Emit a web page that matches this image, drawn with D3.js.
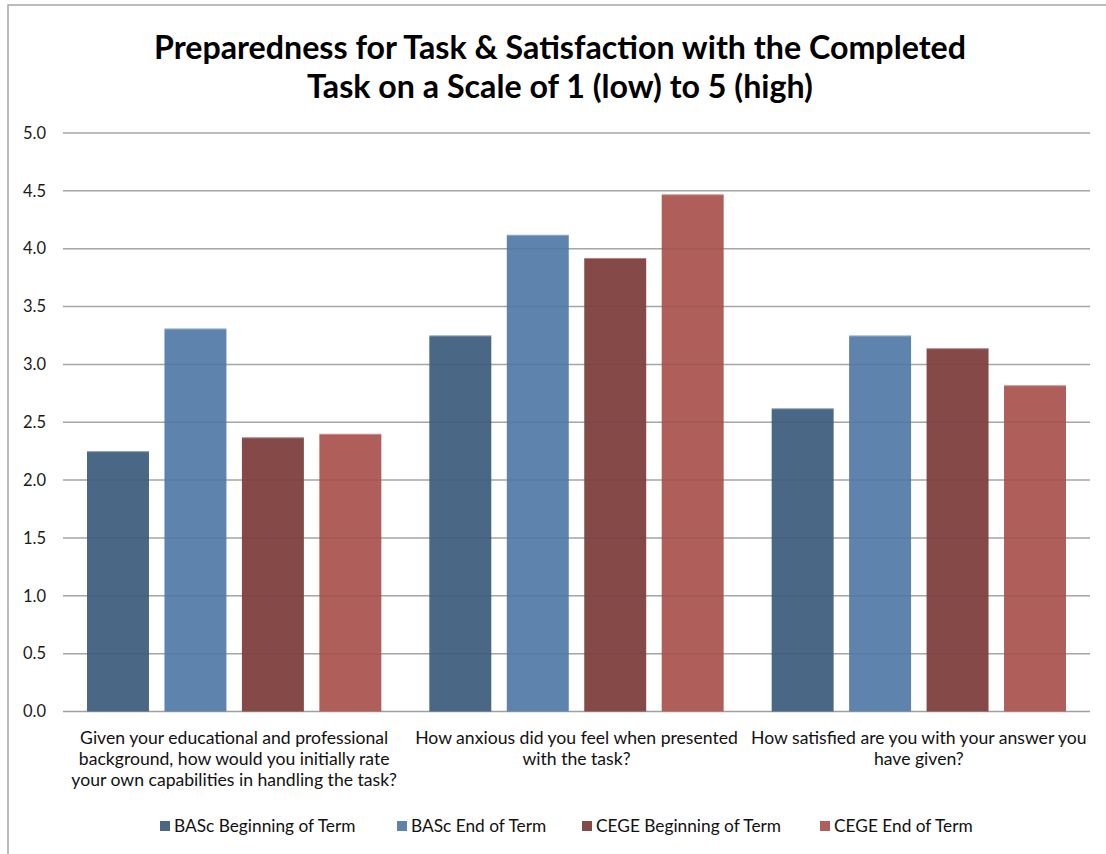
<!DOCTYPE html>
<html>
<head>
<meta charset="utf-8">
<script src="https://cdn.jsdelivr.net/npm/d3@7"></script>
<style>
  html, body { margin: 0; padding: 0; background: #fff; }
  svg { display: block; font-family: Lato, "Open Sans", sans-serif; }
</style>
</head>
<body>
<svg id="chart" width="1106" height="854"></svg>
<script>
// Survey questions (explicit line breaks for the axis labels)
const categories = [
  "Given your educational and professional\nbackground, how would you initially rate\nyour own capabilities in handling the task?",
  "How anxious did you feel when presented\nwith the task?",
  "How satisfied are you with your answer you\nhave given?"
];
const seriesNames = [
  "BASc Beginning of Term",
  "BASc End of Term",
  "CEGE Beginning of Term",
  "CEGE End of Term"
];
// Mean ratings per series, one value per question
const basBegin  = [2.25, 3.25, 2.62];
const basEnd    = [3.31, 4.12, 3.25];
const cegeBegin = [2.37, 3.92, 3.14];
const cegeEnd   = [2.40, 4.47, 2.82];
const seriesColors = ["#4a6785", "#5e84ad", "#854a48", "#af5e59"];
const yTicks = [0, 0.5, 1, 1.5, 2, 2.5, 3, 3.5, 4, 4.5, 5];
const titleLines = [
  "Preparedness for Task & Satisfaction with the Completed",
  "Task on a Scale of 1 (low) to 5 (high)"
];

const seriesValues = [basBegin, basEnd, cegeBegin, cegeEnd];
const rows = categories.map((c, i) => ({
  category: c,
  values: seriesNames.map((s, j) => ({ series: s, value: seriesValues[j][i] }))
}));

const svg = d3.select("#chart");
const plot = { left: 63, right: 1090, top: 133, bottom: 711.5 };

// Outer frame (left and top edges)
svg.append("path")
  .attr("d", `M8,854 L8,5 L1106,5`)
  .attr("fill", "none")
  .attr("stroke", "#a6a6a6")
  .attr("stroke-width", 1.5);

// Title
svg.append("g").selectAll("text")
  .data(titleLines)
  .join("text")
  .attr("x", 560)
  .attr("y", (d, i) => 59 + i * 39)
  .attr("text-anchor", "middle")
  .attr("font-weight", "bold")
  .attr("font-size", 32.2)
  .attr("fill", "#000")
  .text(d => d);

const y = d3.scaleLinear().domain([0, 5]).range([plot.bottom, plot.top]);
const x0 = d3.scaleBand().domain(categories).range([plot.left, plot.right]).padding(0);
const x1 = d3.scaleBand().domain(seriesNames)
  .range([24, x0.bandwidth() - 24]).paddingInner(0.2).paddingOuter(0);
const color = d3.scaleOrdinal().domain(seriesNames).range(seriesColors);

// Horizontal gridlines
const gridStyle = sel => sel
  .attr("x1", plot.left).attr("x2", plot.right)
  .attr("y1", d => y(d)).attr("y2", d => y(d))
  .attr("stroke-width", 1.5);

svg.append("g").selectAll("line")
  .data(yTicks)
  .join("line")
  .call(gridStyle)
  .attr("stroke", d => d === 0 ? "#a0a0a0" : "#b4b4b4");

// Y axis tick labels
const yAxis = d3.axisLeft(y).tickValues(yTicks).tickFormat(d3.format(".1f")).tickSize(0).tickPadding(0);
const yg = svg.append("g").attr("transform", `translate(46,0)`).call(yAxis);
yg.select(".domain").remove();
yg.selectAll("text")
  .attr("font-family", "Lato, 'Open Sans', sans-serif")
  .attr("font-size", 16.5)
  .attr("fill", "#1a1a1a");

// Bars
const groups = svg.append("g").selectAll("g")
  .data(rows)
  .join("g")
  .attr("transform", d => `translate(${x0(d.category)},0)`);

groups.selectAll("rect")
  .data(d => d.values)
  .join("rect")
  .attr("x", d => x1(d.series))
  .attr("width", x1.bandwidth())
  .attr("y", d => y(d.value))
  .attr("height", d => y(0) - y(d.value))
  .attr("fill", d => color(d.series));

// Bar top highlight edge
groups.selectAll("line.edge")
  .data(d => d.values)
  .join("line")
  .attr("class", "edge")
  .attr("x1", d => x1(d.series)).attr("x2", d => x1(d.series) + x1.bandwidth())
  .attr("y1", d => y(d.value) + 0.5).attr("y2", d => y(d.value) + 0.5)
  .attr("stroke", "#fff").attr("stroke-opacity", 0.35).attr("stroke-width", 1);

// Gridlines faintly showing through the bars
svg.append("g").selectAll("line")
  .data(yTicks.filter(d => d > 0))
  .join("line")
  .call(gridStyle)
  .attr("stroke", "#333")
  .attr("stroke-opacity", 0.1);

// Category labels
const catG = svg.append("g").selectAll("text")
  .data(categories)
  .join("text")
  .attr("text-anchor", "middle")
  .attr("font-size", 17.6)
  .attr("fill", "#111")
  .attr("transform", d => `translate(${x0(d) + x0.bandwidth() / 2},744)`);
catG.selectAll("tspan")
  .data(d => d.split("\n"))
  .join("tspan")
  .attr("x", 0)
  .attr("y", (d, i) => i * 21)
  .text(d => d);

// Legend
const legendX = [160, 397, 582, 820];
const legend = svg.append("g").selectAll("g")
  .data(seriesNames)
  .join("g")
  .attr("transform", (d, i) => `translate(${legendX[i]},821)`);
legend.append("rect")
  .attr("width", 10).attr("height", 10)
  .attr("fill", d => color(d));
legend.append("text")
  .attr("x", 14).attr("y", 11)
  .attr("font-size", 17.3)
  .attr("fill", "#111")
  .text(d => d);
</script>
</body>
</html>
